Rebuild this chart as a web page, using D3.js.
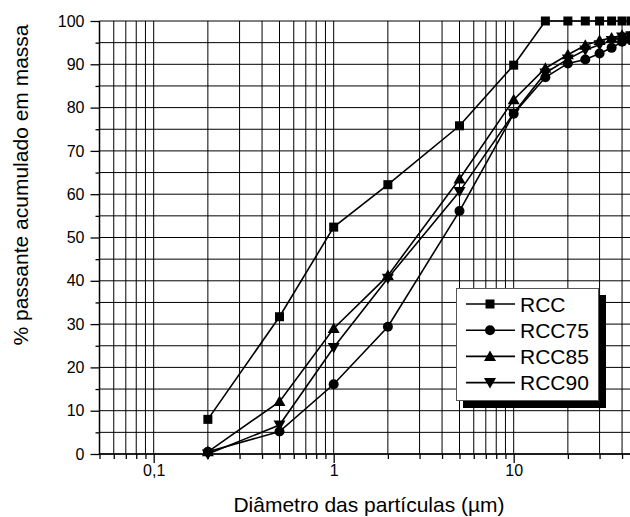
<!DOCTYPE html>
<html>
<head>
<meta charset="utf-8">
<script src="https://cdn.jsdelivr.net/npm/d3@7.9.0/dist/d3.min.js"></script>
<style>
  body { margin: 0; background: #fff; }
  svg { display: block; font-family: "Liberation Sans", Arial, sans-serif; }
</style>
</head>
<body>
<svg id="chart" width="630" height="517"></svg>
<script>
// particle diameters (µm)
const diameters = [0.2, 0.5, 1, 2, 5, 10, 15, 20, 25, 30, 35, 40, 45];

// cumulative passing (%) per sample
const rcc   = [8, 31.7, 52.4, 62.2, 75.8, 89.8, 100, 100, 100, 100, 100, 100, 100];
const rcc75 = [0.5, 5.2, 16.1, 29.4, 56.1, 78.6, 87, 90.2, 91.1, 92.5, 93.8, 95.2, 95.5];
const rcc85 = [0.5, 12.1, 29, 41.2, 63.5, 81.8, 89.1, 92.2, 94.4, 95.5, 96.1, 96.7, 97];
const rcc90 = [0, 6.7, 24.6, 40.6, 60.6, 78.7, 88, 91.2, 93.3, 94.5, 95.5, 96.3, 96.6];

const seriesNames = ['RCC', 'RCC75', 'RCC85', 'RCC90'];
const seriesValues = [rcc, rcc75, rcc85, rcc90];
const symbols = ['square', 'circle', 'up', 'down'];

const yMajor = d3.range(0, 101, 10);
const yMinor = d3.range(5, 100, 10);
const xLabels = [0.1, 1, 10];

const svg = d3.select('#chart');
svg.append('rect').attr('width', 630).attr('height', 517).attr('fill', '#fff');

let x = d3.scaleLog().domain([0.05, 50]).range([99.5, 639.5]);
let y = d3.scaleLinear().domain([0, 100]).range([454, 21]);

// grid
let grid = svg.append('g').attr('stroke', '#000').attr('stroke-width', 1);
x.ticks().forEach((t) => {
  grid.append('line')
    .attr('x1', x(t)).attr('x2', x(t))
    .attr('y1', y(0)).attr('y2', y(100));
});
d3.range(0, 101, 5).forEach((v) => {
  grid.append('line')
    .attr('x1', x(0.05)).attr('x2', 640)
    .attr('y1', y(v)).attr('y2', y(v));
});

// y axis
let yAxis = svg.append('g')
  .attr('transform', `translate(${x(0.05)},0)`)
  .call(d3.axisLeft(y).tickValues(yMajor).tickSize(9).tickPadding(6));
yAxis.append('g').call(d3.axisLeft(y).tickValues(yMinor).tickSize(4).tickFormat(''));
yAxis.selectAll('path.domain').remove();
svg.append('line')
  .attr('x1', x(0.05)).attr('x2', x(0.05))
  .attr('y1', y(0)).attr('y2', y(100))
  .attr('stroke', '#000').attr('stroke-width', 1.5);

// x axis: long ticks at decades, short ones between
let decades = x.ticks().filter((t) => xLabels.includes(t));
let xAxis = svg.append('g')
  .attr('transform', `translate(0,${y(0)})`)
  .call(d3.axisBottom(x).tickValues(decades).tickSize(9).tickPadding(2)
    .tickFormat((d) => String(d).replace('.', ',')));
xAxis.append('g').call(d3.axisBottom(x)
  .tickValues(x.ticks().filter((t) => !xLabels.includes(t)))
  .tickSize(5).tickFormat(''));
xAxis.selectAll('path.domain').remove();
svg.append('line')
  .attr('x1', x(0.05)).attr('x2', 640)
  .attr('y1', y(0)).attr('y2', y(0))
  .attr('stroke', '#000').attr('stroke-width', 1.5);
svg.selectAll('.tick line').attr('stroke', '#000').attr('stroke-width', 1.3);
svg.selectAll('.tick text')
  .attr('fill', '#000')
  .attr('font-size', 16)
  .attr('font-family', '"Liberation Sans", Arial, sans-serif');

// titles
svg.append('text')
  .attr('x', 369).attr('y', 512)
  .attr('text-anchor', 'middle')
  .attr('font-size', 21)
  .text('Diâmetro das partículas (µm)');
svg.append('text')
  .attr('transform', 'translate(28,185) rotate(-90)')
  .attr('text-anchor', 'middle')
  .attr('font-size', 21)
  .text('% passante acumulado em massa');

// marker drawing
function drawMarker(g, kind, cx, cy) {
  if (kind === 'square') {
    g.append('rect').attr('x', cx - 4.5).attr('y', cy - 4.5)
      .attr('width', 9).attr('height', 9).attr('fill', '#000');
  } else if (kind === 'circle') {
    g.append('circle').attr('cx', cx).attr('cy', cy).attr('r', 5).attr('fill', '#000');
  } else if (kind === 'up') {
    g.append('path').attr('d', `M${cx},${cy - 6}L${cx + 6},${cy + 4.5}L${cx - 6},${cy + 4.5}Z`).attr('fill', '#000');
  } else {
    g.append('path').attr('d', `M${cx},${cy + 6}L${cx + 6},${cy - 4.5}L${cx - 6},${cy - 4.5}Z`).attr('fill', '#000');
  }
}

let line = d3.line().x((d) => x(d[0])).y((d) => y(d[1]));
let plot = svg.append('g');
seriesValues.forEach((vals, i) => {
  let pts = diameters.map((d, j) => [d, vals[j]]);
  plot.append('path')
    .attr('d', line(pts))
    .attr('fill', 'none')
    .attr('stroke', '#000')
    .attr('stroke-width', 1.6);
  pts.forEach((p) => drawMarker(plot, symbols[i], x(p[0]), y(p[1])));
});

// legend
let legend = svg.append('g');
legend.append('rect').attr('x', 463).attr('y', 295).attr('width', 143).attr('height', 113).attr('fill', '#000');
legend.append('rect').attr('x', 456.5).attr('y', 288.5).attr('width', 142).attr('height', 112)
  .attr('fill', '#fff').attr('stroke', '#555').attr('stroke-width', 1);
seriesNames.forEach((name, i) => {
  let ly = 304 + i * 26.2;
  legend.append('line').attr('x1', 466).attr('x2', 515).attr('y1', ly).attr('y2', ly)
    .attr('stroke', '#000').attr('stroke-width', 1.6);
  drawMarker(legend, symbols[i], 490, ly);
  legend.append('text').attr('x', 520).attr('y', ly + 7.5)
    .attr('font-size', 21).text(name);
});
</script>
</body>
</html>
